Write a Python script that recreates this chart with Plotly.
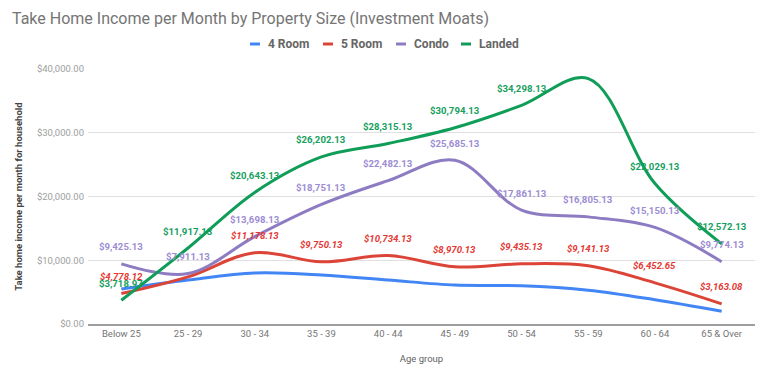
import plotly.graph_objects as go

categories = ["Below 25", "25 - 29", "30 - 34", "35 - 39", "40 - 44", "45 - 49",
              "50 - 54", "55 - 59", "60 - 64", "65 & Over"]

series_names = ["4 Room", "5 Room", "Condo", "Landed"]
room4 = [5500, 6900, 8000, 7700, 6900, 6100, 6000, 5300, 3800, 2000]
room5 = [4778.12, 7400, 11178.13, 9750.13, 10734.13, 8970.13, 9435.13, 9141.13, 6452.65, 3163.08]
condo = [9425.13, 7911.13, 13698.13, 18751.13, 22482.13, 25685.13, 17861.13, 16805.13, 15150.13, 9774.13]
landed = [3718.97, 11917.13, 20643.13, 26202.13, 28315.13, 30794.13, 34298.13, 38500, 22029.13, 12572.13]

# value labels shown on the chart (some are hidden in the original)
room5_labels = ["$4,778.12", "", "$11,178.13", "$9,750.13", "$10,734.13", "$8,970.13",
                "$9,435.13", "$9,141.13", "$6,452.65", "$3,163.08"]
condo_labels = ["$9,425.13", "$7,911.13", "$13,698.13", "$18,751.13", "$22,482.13", "$25,685.13",
                "$17,861.13", "$16,805.13", "$15,150.13", "$9,774.13"]
landed_labels = ["$3,718.97", "$11,917.13", "$20,643.13", "$26,202.13", "$28,315.13", "$30,794.13",
                 "$34,298.13", "", "$22,029.13", "$12,572.13"]

y_ticks = [0, 10000, 20000, 30000, 40000]
y_tick_labels = ["$0.00", "$10,000.00", "$20,000.00", "$30,000.00", "$40,000.00"]

FONT = "Roboto"
W, H = 768, 373
L, R, T, B = 88, 13, 69, 49
PW, PH = W - L - R, H - T - B

line_colors = ["#4285f4", "#db4437", "#8e7cc3", "#0f9d58"]
label_colors = [None, "#e53935", "#9c8dd3", "#16a05e"]

fig = go.Figure()
all_values = [room4, room5, condo, landed]
all_labels = [None, room5_labels, condo_labels, landed_labels]

for name, vals, col in zip(series_names, all_values, line_colors):
    fig.add_trace(go.Scatter(
        x=categories, y=vals, name=name, mode="lines",
        line=dict(color=col, width=3, shape="spline", smoothing=1.0),
        hoverinfo="x+y", showlegend=False,
    ))

annotations = []
for vals, labs, tcol, italic in zip(all_values, all_labels, label_colors,
                                    [False, True, False, False]):
    if labs is None:
        continue
    for c, v, t in zip(categories, vals, labs):
        if not t:
            continue
        annotations.append(dict(
            x=c, y=v, xref="x", yref="y", text=t, showarrow=False,
            yshift=17, xanchor="center", yanchor="middle",
            font=dict(family=FONT, size=9.6, color=tcol, weight="bold",
                      style="italic" if italic else "normal"),
        ))

# custom legend (short bar symbols like the original)
legend_sym_px = [250, 323, 396, 461]
legend_y = (H - B - 44) / PH
shapes = []
for name, col, sx in zip(series_names, line_colors, legend_sym_px):
    x0 = (sx - L) / PW
    x1 = (sx + 10 - L) / PW
    shapes.append(dict(type="line", xref="paper", yref="paper", x0=x0, x1=x1,
                       y0=legend_y, y1=legend_y, line=dict(color=col, width=3)))
    annotations.append(dict(
        x=(sx + 16 - L) / PW, y=legend_y, xref="paper", yref="paper", text=name,
        showarrow=False, xanchor="left", yanchor="middle",
        font=dict(family=FONT, size=12, color="#666666", weight="bold"),
    ))

fig.update_layout(
    width=W, height=H,
    margin=dict(l=L, r=R, t=T, b=B, autoexpand=False),
    paper_bgcolor="white", plot_bgcolor="white",
    font=dict(family=FONT, color="#757575", size=10),
    title=dict(text="Take Home Income per Month by Property Size (Investment Moats)",
               x=12/W, xref="container", xanchor="left",
               y=1 - 18/H, yref="container", yanchor="middle",
               font=dict(family=FONT, size=16, color="#757575")),
    showlegend=False,
    annotations=annotations,
    shapes=shapes,
)
fig.update_xaxes(
    type="category", showgrid=False, zeroline=False, automargin=False,
    showline=True, linecolor="#9e9e9e", linewidth=2,
    tickfont=dict(size=9.5, color="#757575"),
    range=[-0.5, len(categories) - 0.5],
    title=dict(text="Age group", font=dict(size=9.5, color="#616161"), standoff=17),
)
fig.update_yaxes(
    range=[0, 40000], tickvals=y_ticks, ticktext=y_tick_labels, automargin=False,
    showgrid=True, gridcolor="#e0e0e0", gridwidth=1, zeroline=False,
    tickfont=dict(size=9.5, color="#9e9e9e"), ticks="", ticklen=0, ticklabelstandoff=3,
    title=dict(text="Take home income per month for household",
               font=dict(size=9.5, color="#424242", weight="bold"), standoff=12),
)

fig.write_html("out.html", config={"displayModeBar": False},
               post_script="document.body.style.margin='0px';")
